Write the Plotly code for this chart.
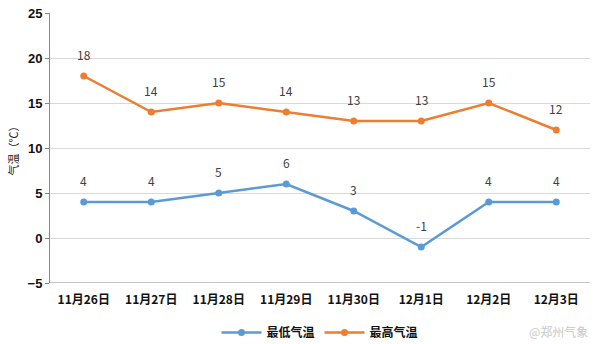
import plotly.graph_objects as go

dates = ["11月26日", "11月27日", "11月28日", "11月29日", "11月30日", "12月1日", "12月2日", "12月3日"]
low_temp = [4, 4, 5, 6, 3, -1, 4, 4]
high_temp = [18, 14, 15, 14, 13, 13, 15, 12]
y_ticks = [-5, 0, 5, 10, 15, 20, 25]

font_family = "Noto Sans CJK SC, Noto Sans, sans-serif"

fig = go.Figure()
for name, vals, color in [("最低气温", low_temp, "#5B9BD5"), ("最高气温", high_temp, "#ED7D31")]:
    fig.add_trace(go.Scatter(
        x=dates, y=vals, name=name, mode="lines+markers",
        line=dict(color=color, width=2.5), marker=dict(size=7, color=color),
    ))
    for d, v in zip(dates, vals):
        fig.add_annotation(x=d, y=v, text=str(v), showarrow=False, yshift=22,
                           font=dict(size=12, color="#404040", family=font_family))

fig.update_layout(
    width=600, height=344,
    margin=dict(l=50, r=10, t=13, b=61, autoexpand=False),
    paper_bgcolor="white", plot_bgcolor="white",
    font=dict(family=font_family, size=12, color="#222"),
    legend=dict(orientation="h", x=0.5, xanchor="center", y=-0.13, yanchor="top",
                font=dict(size=12, color="#111", weight="bold"), itemwidth=40),
    xaxis=dict(
        type="category", showgrid=False, showline=False, ticks="",
        tickfont=dict(size=12, color="#111", family=font_family, weight="bold"),
        range=[-0.5, 7.5], automargin=False, ticklabelstandoff=8,
    ),
    yaxis=dict(
        range=[-5, 25], tickvals=y_ticks, showgrid=True, gridcolor="#D9D9D9",
        showline=True, linecolor="#888", linewidth=1, ticks="outside", ticklen=4,
        tickcolor="#888", zeroline=False, automargin=False,
        tickfont=dict(size=13, color="#111", family="Liberation Sans, sans-serif", weight="bold"),
        title=dict(text="气温（℃）", font=dict(size=11, color="#222"), standoff=6),
    ),
)
fig.add_shape(type="line", xref="paper", yref="y", x0=0, x1=1, y0=-5, y1=-5,
              line=dict(color="#888", width=1))
fig.add_annotation(text="@郑州气象", xref="paper", yref="paper", x=1.0, y=-0.14,
                   xanchor="right", yanchor="top", showarrow=False,
                   font=dict(size=12, color="#C8C8C8"))

fig.write_html("out.html")
